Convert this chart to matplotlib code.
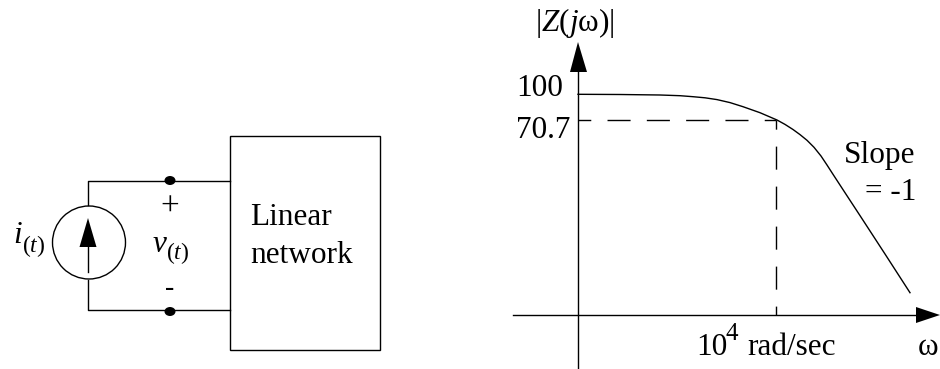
import matplotlib
matplotlib.use("Agg")
import matplotlib.pyplot as plt
from matplotlib.patches import Circle, Ellipse, Polygon, Rectangle

plt.rcParams['font.family'] = ['Liberation Serif', 'DejaVu Serif']
plt.rcParams['mathtext.fontset'] = 'custom'
plt.rcParams['mathtext.rm'] = 'Liberation Serif'
plt.rcParams['mathtext.it'] = 'Liberation Serif:italic'

# odpowiedz impedancji (piksele)
curve_x = [578, 620, 660, 680, 693, 705, 717, 730, 743, 760, 777, 785, 793, 800, 807, 814, 821, 827, 833, 845, 860, 885, 910]
curve_y = [94.3, 94.5, 95, 95.7, 96.7, 97.8, 99.6, 102.6, 106.7, 112.7, 120, 124.4, 129.5, 134.6, 140.3, 147.3, 156, 165, 174.3, 192.7, 215.6, 254, 292.7]

# punkt -3 dB
corner_x = 776
level_y = 120
origin_x = 578
origin_y = 315

fig = plt.figure(figsize=(9.4, 3.69), dpi=100)
ax = fig.add_axes([0, 0, 1, 1])
ax.set_xlim(0, 940)
ax.set_ylim(369, 0)
ax.axis('off')

LW = 1.0
K = 'black'
FS = 22.5
SUB = 17


def label(x, y, s, size=FS, ha='left'):
    ax.text(x, y, s, fontsize=size, va='baseline', ha=ha)


# obwod po lewej
ax.plot([88, 88, 230], [205, 180.5, 180.5], color=K, lw=LW)
ax.plot([88, 88, 230], [280, 310, 310], color=K, lw=LW)
ax.add_patch(Circle((89, 242.5), 36.5, fill=False, ec=K, lw=LW))
ax.plot([88, 88], [245, 272], color=K, lw=LW)
ax.add_patch(Polygon([(88, 218), (79.5, 247), (96.5, 247)], color=K, lw=0))
ax.add_patch(Ellipse((170, 180.5), 11, 9, color=K, lw=0))
ax.add_patch(Ellipse((170, 311.5), 11, 9, color=K, lw=0))
ax.add_patch(Rectangle((230, 136), 150, 214, fill=False, ec=K, lw=LW))

label(250, 225, "Linear")
label(250, 263, "network")
label(170, 215.5, "+", 24, 'center')
label(170, 295, "-", 20, 'center')
label(13, 243, r"$\mathit{i}$")
label(22, 252, r"$(\mathit{t})$", SUB)
label(152, 252, r"$\mathit{v}$")
label(166, 259, r"$(\mathit{t})$", SUB)

# wykres po prawej
ax.plot([origin_x, origin_x], [65, 369], color=K, lw=LW)
ax.plot([513, 920], [origin_y, origin_y], color=K, lw=LW)
ax.add_patch(Polygon([(578, 42), (570, 72), (587, 72)], color=K, lw=0))
ax.add_patch(Polygon([(940, 315), (916, 307), (916, 323)], color=K, lw=0))

ax.plot(curve_x, curve_y, color=K, lw=LW)
ax.plot([origin_x, corner_x], [level_y, level_y], color=K, lw=LW, linestyle=(7.4, (16.6, 11.7)))
ax.plot([corner_x, corner_x], [level_y, origin_y], color=K, lw=LW, linestyle=(10, (16.6, 12.2)))

label(535, 31, r"$|\mathit{Z}(\mathit{j}\mathrm{\omega})|$", 22.5)
label(516, 96.5, "100")
label(516, 137.5, "70.7")
label(844, 163, "Slope")
label(865, 200, "= -1")
label(696, 355, "10")
label(726, 340, "4", 18)
label(747, 355, "rad/sec")
label(918, 355, "ω")

fig.savefig("out.png", dpi=100)
